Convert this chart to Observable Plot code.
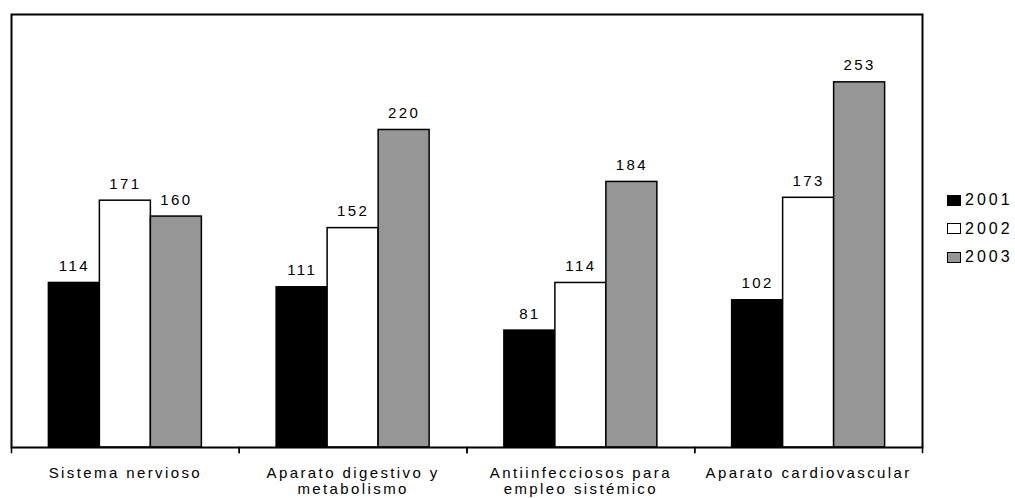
<!DOCTYPE html>
<html>
<head>
<meta charset="utf-8">
<script src="https://cdn.jsdelivr.net/npm/d3@7"></script>
<script src="https://cdn.jsdelivr.net/npm/@observablehq/plot@0.6"></script>
<style>
  html, body { margin: 0; padding: 0; background: #fff; }
  #wrap { position: relative; width: 1015px; height: 498px; font-family: "Liberation Sans", Arial, sans-serif; }
  #wrap svg text { letter-spacing: 2.4px; }
  #legend { position: absolute; left: 947px; top: 186px; font-size: 16px; letter-spacing: 3px; color: #000; }
  #legend .row { display: flex; align-items: center; height: 28.5px; }
  #legend .sw { box-sizing: border-box; width: 14px; height: 11px; border: 1px solid #000; margin-right: 4px; }
</style>
</head>
<body>
<div id="wrap"><div id="legend"></div></div>
<script>
const categories = ["Sistema nervioso", "Aparato digestivo y metabolismo", "Antiinfecciosos para empleo sistémico", "Aparato cardiovascular"];
const categoryLabels = ["Sistema nervioso", "Aparato digestivo y\nmetabolismo", "Antiinfecciosos para\nempleo sistémico", "Aparato cardiovascular"];
const years = ["2001", "2002", "2003"];
const values2001 = [114, 111, 81, 102];
const values2002 = [171, 152, 114, 173];
const values2003 = [160, 220, 184, 253];
const colors = ["#000000", "#ffffff", "#969696"];

const series = [values2001, values2002, values2003];
const data = [];
categories.forEach((c, i) => {
  years.forEach((y, j) => data.push({category: c, year: y, value: series[j][i]}));
});
const labelMap = new Map(categories.map((c, i) => [c, categoryLabels[i]]));

const chart = Plot.plot({
  width: 1015,
  height: 498,
  marginLeft: 11,
  marginRight: 93,
  marginTop: 14,
  marginBottom: 51,
  fx: {domain: categories, paddingInner: 0, paddingOuter: 0, round: false, label: null, axis: null},
  x: {domain: years, paddingInner: 0, paddingOuter: 0.733, round: false, axis: null},
  y: {domain: [0, 300], axis: null},
  color: {domain: years, range: colors},
  style: {fontFamily: "Liberation Sans, Arial, sans-serif", fontSize: "15px", color: "#000", background: "#fff"},
  marks: [
    Plot.barY(data, {fx: "category", x: "year", y: "value", fill: "year", stroke: "#000", strokeWidth: 1.5}),
    Plot.text(data, {fx: "category", x: "year", y: "value", text: d => String(d.value), lineAnchor: "bottom", dy: -12, fontSize: 15, fill: "#000"}),
    Plot.frame({facet: "super", stroke: "#000", strokeWidth: 2}),
    Plot.frame({anchor: "left", insetTop: 433, insetBottom: -5, stroke: "#000", strokeWidth: 1.5}),
    Plot.frame({anchor: "right", insetTop: 433, insetBottom: -5, stroke: "#000", strokeWidth: 1.5}),
    Plot.axisFx({anchor: "bottom", tickSize: 0, tickPadding: 19, lineHeight: 1.07, fontSize: 15, tickFormat: c => labelMap.get(c), label: null})
  ]
});
document.getElementById("wrap").prepend(chart);

const legend = document.getElementById("legend");
years.forEach((y, j) => {
  const row = document.createElement("div");
  row.className = "row";
  const sw = document.createElement("span");
  sw.className = "sw";
  sw.style.background = colors[j];
  const t = document.createElement("span");
  t.textContent = y;
  row.append(sw, t);
  legend.append(row);
});
</script>
</body>
</html>
